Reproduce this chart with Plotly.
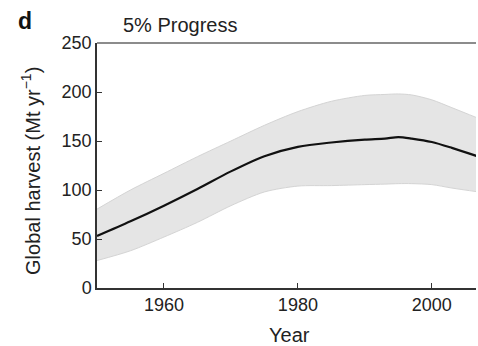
import plotly.graph_objects as go

# Global harvest projections, 5% progress scenario
years = [1950, 1955, 1960, 1965, 1970, 1975, 1980, 1985, 1990, 1993, 1995, 1997, 2000, 2003, 2007]
harvest_mean = [53, 68, 84, 101, 119, 134.5, 144, 148.5, 151.5, 152.5, 154, 152.5, 149, 143, 134]
harvest_upper = [80.5, 100, 117, 134, 150, 166, 180, 190.5, 196.5, 197.5, 198, 197, 192, 184, 173]
harvest_lower = [28, 38, 52, 67, 84, 98, 104, 104.5, 105.5, 106, 106.5, 106.5, 105.5, 102, 98]

y_ticks = [0, 50, 100, 150, 200, 250]
x_ticks = [1960, 1980, 2000]

FONT = "Liberation Sans, Arial, sans-serif"
TEXT = "#222222"
SMOOTH = dict(shape="spline", smoothing=0.8)

fig = go.Figure()

# envelope of the ensemble runs
fig.add_trace(go.Scatter(
    x=years, y=harvest_lower, mode="lines",
    line=dict(color="#d4d4d4", width=1, **SMOOTH), showlegend=False, hoverinfo="skip"))
fig.add_trace(go.Scatter(
    x=years, y=harvest_upper, mode="lines", fill="tonexty",
    fillcolor="#e5e5e5",
    line=dict(color="#d4d4d4", width=1, **SMOOTH), showlegend=False, hoverinfo="skip"))

# ensemble mean
fig.add_trace(go.Scatter(
    x=years, y=harvest_mean, mode="lines",
    line=dict(color="#111111", width=2.2, **SMOOTH),
    showlegend=False))

fig.update_layout(
    width=478, height=346,
    margin=dict(l=97, r=2, t=43, b=58),
    paper_bgcolor="white", plot_bgcolor="white",
    font=dict(family=FONT, color=TEXT, size=18),
    xaxis=dict(
        range=[1950, 2006.6], tickvals=x_ticks, ticks="inside", ticklen=5,
        tickcolor="#333", showline=True, linecolor="#333", linewidth=1.5,
        showgrid=False, zeroline=False, tickfont=dict(size=18)),
    yaxis=dict(
        range=[0, 250], tickvals=y_ticks, ticks="inside", ticklen=5,
        tickcolor="#333", showline=True, linecolor="#333", linewidth=1.5,
        showgrid=False, zeroline=False, tickfont=dict(size=18)),
    shapes=[dict(type="line", xref="paper", yref="paper", x0=0, x1=1, y0=1, y1=1,
                 line=dict(color="#8c8c8c", width=2))],
    annotations=[
        dict(text="<b>d</b>", xref="paper", yref="paper", x=-0.213, y=1.088,
             xanchor="left", yanchor="middle", showarrow=False,
             font=dict(size=23, color="#111")),
        dict(text="5% Progress", xref="paper", yref="paper", x=0.064, y=1.075,
             xanchor="left", yanchor="middle", showarrow=False,
             font=dict(size=20)),
        dict(text="Global harvest (Mt yr<sup>\u22121</sup>)", xref="paper", yref="paper",
             x=-0.174, y=0.478, xanchor="center", yanchor="middle", textangle=-90,
             showarrow=False, font=dict(size=20)),
        dict(text="Year", xref="paper", yref="paper", x=0.507, y=-0.19,
             xanchor="center", yanchor="middle", showarrow=False,
             font=dict(size=20)),
    ],
)

fig.write_html("out.html")
